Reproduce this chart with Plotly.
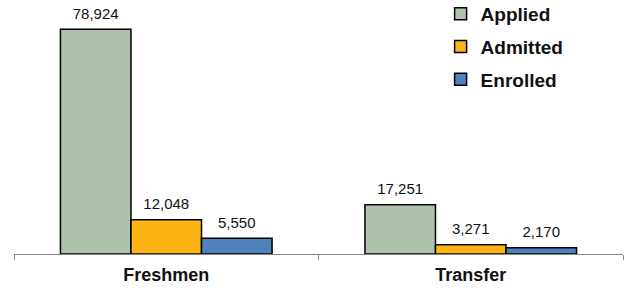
import plotly.graph_objects as go

categories = ["Freshmen", "Transfer"]
series_names = ["Applied", "Admitted", "Enrolled"]
applied = [78924, 17251]
admitted = [12048, 3271]
enrolled = [5550, 2170]
colors = ["#B0C2AE", "#FDB515", "#4F81BD"]

font_family = "Liberation Sans, Arial, sans-serif"
gap = 0.305

fig = go.Figure()
for name, vals, col in zip(series_names, [applied, admitted, enrolled], colors):
    fig.add_trace(go.Bar(
        name=name, x=categories, y=vals,
        marker=dict(color=col, line=dict(color="#000000", width=1.5)),
        legendgroup=name,
    ))
for name, vals in zip(series_names, [applied, admitted, enrolled]):
    fig.add_trace(go.Scatter(
        x=categories, y=vals, mode="markers+text",
        marker=dict(size=9, opacity=0),
        text=[f"{v:,}" for v in vals],
        textposition="top center",
        textfont=dict(family=font_family, size=15, color="#111111"),
        cliponaxis=False, showlegend=False, hoverinfo="skip",
        legendgroup=name,
    ))

ymax = 78924 * 254.5 / 225.2
fig.update_layout(
    width=630, height=290,
    margin=dict(l=14, r=7, t=0, b=35.5, autoexpand=False),
    paper_bgcolor="white", plot_bgcolor="white",
    barmode="group", bargap=gap, bargroupgap=0,
    scattermode="group", scattergap=gap,
    font=dict(family=font_family),
    showlegend=True,
    legend=dict(
        x=0.7005, y=1.02, xanchor="left", yanchor="top",
        font=dict(family=font_family, size=19, color="#111111", weight="bold"),
        tracegroupgap=5, traceorder="grouped",
        bgcolor="rgba(0,0,0,0)",
    ),
    xaxis=dict(
        showline=True, linecolor="#868686", linewidth=1,
        ticks="outside", tickson="boundaries", ticklen=5, tickcolor="#868686",
        tickfont=dict(family=font_family, size=18, color="#111111", weight="bold"),
        ticklabelstandoff=4,
        showgrid=False,
    ),
    yaxis=dict(range=[0, ymax], visible=False, showgrid=False),
)

fig.write_html(
    "out.html",
    config={"displayModeBar": False},
    post_script="document.body.style.margin='0';document.body.style.overflow='hidden';",
)
